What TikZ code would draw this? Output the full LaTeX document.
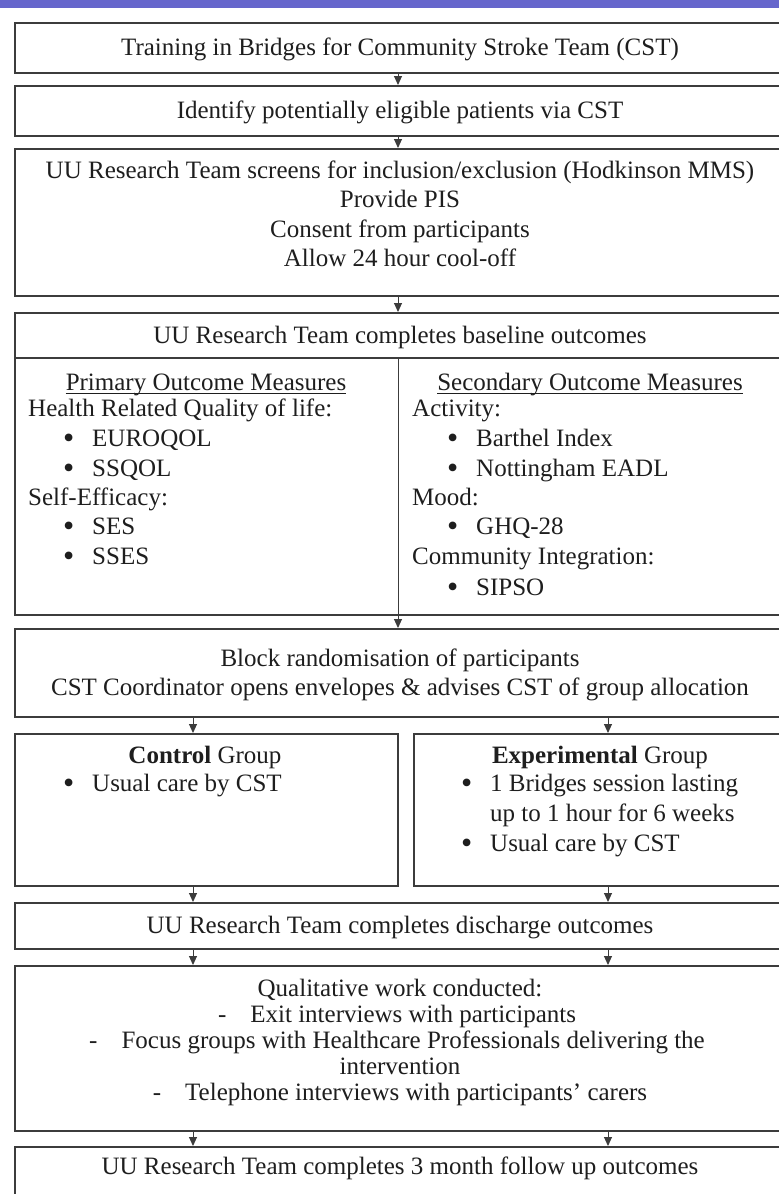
\documentclass[tikz,border=0pt]{standalone}
\usepackage{fontspec}
\setmainfont{Liberation Serif}
\usetikzlibrary{arrows.meta,calc}
\definecolor{barpurple}{RGB}{102,102,204}
\definecolor{edge}{RGB}{60,60,60}
\definecolor{ink}{RGB}{30,30,30}
\newcommand{\bul}{\makebox[25pt][l]{\hspace{-4pt}\raisebox{-2.5pt}[0pt][0pt]{\fontsize{32}{30}\selectfont •}}}
\begin{document}
\begin{tikzpicture}[x=1pt,y=-1pt,
  box/.style={draw=edge,line width=1.8pt,rectangle,anchor=north west,inner sep=0pt},
  txt/.style={inner sep=0pt,anchor=base,text=ink,font=\fontsize{25}{30}\selectfont},
  ltxt/.style={txt,anchor=base west},
  arr/.style={draw=edge,line width=1pt,-{Triangle[length=9pt,width=8pt]}},
  sepline/.style={draw=edge,line width=1.8pt},
]
\clip (0,0) rectangle (779,1194);
\fill[white] (0,0) rectangle (779,1194);
\fill[barpurple] (0,0) rectangle (779,8);

% boxes
\node[box,minimum width=772pt,minimum height=50pt]  (b1) at (14,22) {};
\node[box,minimum width=772pt,minimum height=50pt]  (b2) at (14,85) {};
\node[box,minimum width=772pt,minimum height=147pt] (b3) at (14,148) {};
\node[box,minimum width=772pt,minimum height=302pt] (b4) at (14,312) {};
\node[box,minimum width=772pt,minimum height=88pt]  (b5) at (14,628) {};
\node[box,minimum width=383pt,minimum height=152pt] (bc) at (14,733) {};
\node[box,minimum width=373pt,minimum height=152pt] (be) at (413,733) {};
\node[box,minimum width=772pt,minimum height=46pt]  (b6) at (14,902) {};
\node[box,minimum width=772pt,minimum height=165pt] (b7) at (14,965) {};
\node[box,minimum width=772pt,minimum height=80pt]  (b8) at (14,1146) {};

% helper coordinates
\coordinate (cx) at (398,0);
\coordinate (lx) at (193,0);
\coordinate (rx) at (608,0);
\coordinate (sep) at (398,358);

% header separator in baseline box
\draw[sepline] (b4.west |- sep) -- (b4.east |- sep);

% connectors
\draw[arr] (b1.south -| cx) -- (b2.north -| cx);
\draw[arr] (b2.south -| cx) -- (b3.north -| cx);
\draw[arr] (b3.south -| cx) -- (b4.north -| cx);
\draw[arr] (sep) -- (b5.north -| cx);
\draw[arr] (b5.south -| lx) -- (bc.north -| lx);
\draw[arr] (b5.south -| rx) -- (be.north -| rx);
\draw[arr] (bc.south -| lx) -- (b6.north -| lx);
\draw[arr] (be.south -| rx) -- (b6.north -| rx);
\draw[arr] (b6.south -| lx) -- (b7.north -| lx);
\draw[arr] (b6.south -| rx) -- (b7.north -| rx);
\draw[arr] (b7.south -| lx) -- (b8.north -| lx);
\draw[arr] (b7.south -| rx) -- (b8.north -| rx);

% texts
\node[txt] (t1) at (400,55) {Training in Bridges for Community Stroke Team (CST)};
\node[txt] (t2) at (400,118) {Identify potentially eligible patients via CST};
\node[txt] (t3a) at (400,178) {UU Research Team screens for inclusion/exclusion (Hodkinson MMS)};
\node[txt] (t3b) at (400,207) {Provide PIS};
\node[txt] (t3c) at (400,237) {Consent from participants};
\node[txt] (t3d) at (400,266) {Allow 24 hour cool-off};
\node[txt] (t4) at (400,343) {UU Research Team completes baseline outcomes};

\node[txt] (pom) at (206,390) {Primary Outcome Measures};
\draw[draw=ink,line width=1pt] ([yshift=-3pt]pom.base west) -- ([yshift=-3pt]pom.base east);
\node[ltxt] (p1) at (28,416) {Health Related Quality of life:};
\node[ltxt] (p1t) at (67,446) {\bul EUROQOL};
\node[ltxt] (p2t) at (67,476) {\bul SSQOL};
\node[ltxt] (p3) at (28,505) {Self-Efficacy:};
\node[ltxt] (p3t) at (67,534) {\bul SES};
\node[ltxt] (p4t) at (67,564) {\bul SSES};

\node[txt] (som) at (590,390) {Secondary Outcome Measures};
\draw[draw=ink,line width=1pt] ([yshift=-3pt]som.base west) -- ([yshift=-3pt]som.base east);
\node[ltxt] (s1) at (412,416) {Activity:};
\node[ltxt] (s1t) at (451,446) {\bul Barthel Index};
\node[ltxt] (s2t) at (451,476) {\bul Nottingham EADL};
\node[ltxt] (s3) at (412,505) {Mood:};
\node[ltxt] (s3t) at (451,534) {\bul GHQ-28};
\node[ltxt] (s4) at (412,564) {Community Integration:};
\node[ltxt] (s4t) at (451,595) {\bul SIPSO};

\node[txt] (t5a) at (400,666) {Block randomisation of participants};
\node[txt] (t5b) at (400,695) {CST Coordinator opens envelopes \& advises CST of group allocation};

\node[txt] (tc) at (205,763) {\textbf{Control} Group};
\node[ltxt] (tct) at (67,791) {\bul Usual care by CST};

\node[txt] (te) at (600,763) {\textbf{Experimental} Group};
\node[ltxt] (te1t) at (465,791) {\bul 1 Bridges session lasting};
\node[ltxt] (te1u) at (490,821) {up to 1 hour for 6 weeks};
\node[ltxt] (te2t) at (465,851) {\bul Usual care by CST};

\node[txt] (t6) at (400,933) {UU Research Team completes discharge outcomes};

\node[txt] (t7a) at (400,996) {Qualitative work conducted:};
\node[txt] (t7b) at (397,1022) {-\hspace{24pt}Exit interviews with participants};
\node[txt] (t7c) at (397,1048) {-\hspace{24pt}Focus groups with Healthcare Professionals delivering the};
\node[txt] (t7d) at (400,1074) {intervention};
\node[txt] (t7e) at (400,1100) {-\hspace{24pt}Telephone interviews with participants’ carers};

\node[txt] (t8) at (400,1174) {UU Research Team completes 3 month follow up outcomes};
\end{tikzpicture}
\end{document}
